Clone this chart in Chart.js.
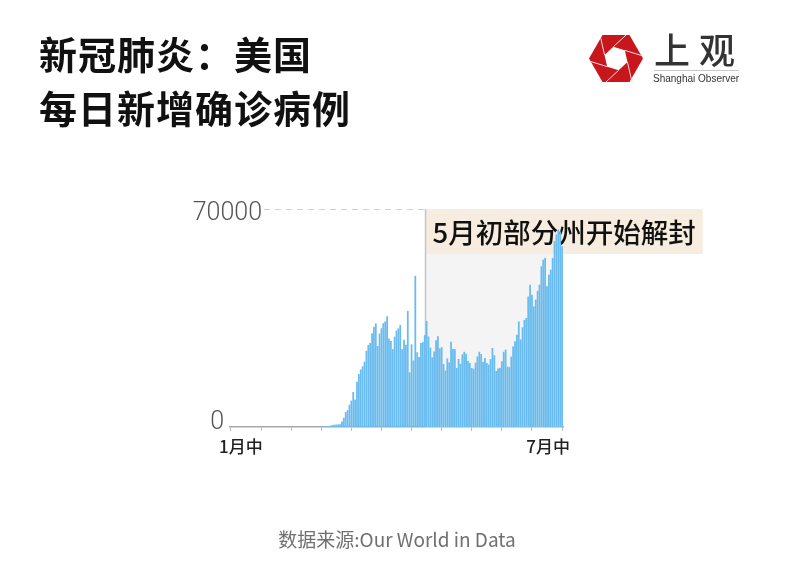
<!DOCTYPE html>
<html>
<head>
<meta charset="utf-8">
<script src="https://cdn.jsdelivr.net/npm/chart.js@4.4.1/dist/chart.umd.min.js"></script>
<style>
  html, body { margin: 0; padding: 0; background: #ffffff; }
  #wrap { width: 794px; height: 583px; position: relative; }
</style>
</head>
<body>
<div id="wrap"><canvas id="c" width="794" height="583"></canvas></div>
<script>
// ---------------- DATA ----------------
const titleLines = ['新冠肺炎：美国', '每日新增确诊病例'];
const sourceText = '数据来源:Our World in Data';
const startDate = '2020-01-19';
// daily new confirmed cases, United States (one value per day from startDate)
const casesJanFeb = [0,0,1,0,0,1,0,3,0,0,0,0,1,
  1,0,3,0,0,1,0,0,0,0,1,0,1,0,0,0,0,0,0,0,2,0,0,18,0,6,1,1,8];
const casesMar = [7,23,19,33,77,53,166,116,75,188,365,439,633,759,777,823,887,1766,2988,4835,
  5374,7123,8459,11236,8789,14500,17000,18500,19500,21000,24500];
const casesApr = [26366,27000,30081,32133,33264,26000,30000,31709,33331,33901,35527,28391,27620,25023,29000,
  31000,31667,32800,25000,28000,26400,37289,17588,26543,21352,48529,24000,22500,27000,27326];
const casesMay = [29515,34037,29078,25501,22335,24252,27862,29162,25241,25612,20258,18117,22048,20782,27368,
  25050,24994,18937,21841,20289,23285,24147,23520,21221,20568,18910,18721,20657,22658,24151,23417];
const casesJun = [20887,22153,20578,20075,21808,25368,23019,17989,18820,18996,21099,24149,24856,19400,19200,
  22600,25900,27500,29600,33900,28100,32000,34400,35000,41900,45700,42500,38700,40900,43700];
const casesJul = [45700,51600,53700,54300,45200,48900,50500,54300,59700,61800,63400,62800,58000];
const dailyCases = [].concat(casesJanFeb, casesMar, casesApr, casesMay, casesJun, casesJul);

const yTickValues = [0, 70000];
const yTickLabels = ['0', '70000'];
const xTickLabels = ['1月中', '7月中'];
const xTickEvery = 16;
const reopenDate = '2020-05-01';
const annotationText = '5月初部分州开始解封';

// category labels (dates)
const dateLabels = [];
(function () {
  const d0 = new Date(startDate + 'T00:00:00Z');
  for (let i = 0; i < dailyCases.length; i++) {
    const d = new Date(d0.getTime() + i * 86400000);
    dateLabels.push(d.toISOString().slice(0, 10));
  }
})();

// ---------------- DECOR PLUGIN ----------------
const CJK = '"Noto Sans CJK SC", "Noto Sans", sans-serif';

function drawLogo(ctx) {
  const cx = 616, cy = 58.5, R = 27;
  const pts = (r, rot) => {
    const a = [];
    for (let k = 0; k < 6; k++) {
      const t = rot + k * Math.PI / 3;
      a.push([cx + r * Math.cos(t), cy + r * Math.sin(t)]);
    }
    return a;
  };
  const outer = pts(R, 0);
  ctx.save();
  ctx.beginPath();
  outer.forEach((p, i) => i ? ctx.lineTo(p[0], p[1]) : ctx.moveTo(p[0], p[1]));
  ctx.closePath();
  ctx.fillStyle = '#c8161d';
  ctx.fill();
  ctx.clip();
  const inner = pts(12, 0.3);
  ctx.strokeStyle = 'rgba(255,255,255,0.85)';
  ctx.lineWidth = 1;
  for (let k = 0; k < 6; k++) {
    const p = inner[k], q = inner[(k + 5) % 6];
    const dx = p[0] - q[0], dy = p[1] - q[1];
    const len = Math.hypot(dx, dy);
    ctx.beginPath();
    ctx.moveTo(p[0], p[1]);
    ctx.lineTo(p[0] + dx / len * 40, p[1] + dy / len * 40);
    ctx.stroke();
  }
  ctx.beginPath();
  inner.forEach((p, i) => i ? ctx.lineTo(p[0], p[1]) : ctx.moveTo(p[0], p[1]));
  ctx.closePath();
  ctx.fillStyle = '#ffffff';
  ctx.fill();
  ctx.restore();

  ctx.save();
  ctx.fillStyle = '#333333';
  ctx.font = '500 36px ' + CJK;
  ctx.textBaseline = 'middle';
  ctx.textAlign = 'left';
  ctx.letterSpacing = '9px';
  ctx.fillText('上观', 654, 50);
  ctx.letterSpacing = '0px';
  ctx.strokeStyle = '#c8c8c8';
  ctx.lineWidth = 1;
  ctx.beginPath();
  ctx.moveTo(654, 70.5);
  ctx.lineTo(739, 70.5);
  ctx.stroke();
  ctx.font = '10px "Liberation Sans", Arial, sans-serif';
  ctx.fillStyle = '#333333';
  ctx.fillText('Shanghai Observer', 653, 79.5);
  ctx.restore();
}

const decorPlugin = {
  id: 'decor',
  beforeDatasetsDraw(chart) {
    const { ctx, chartArea, scales } = chart;
    const x = scales.x, y = scales.y;
    const lx = Math.round(x.getPixelForValue(dateLabels.indexOf(reopenDate))) + 0.5;
    const yTop = y.getPixelForValue(yTickValues[1]);
    const y0 = y.getPixelForValue(yTickValues[0]);
    const boxH = 45;
    ctx.save();
    // shaded period
    ctx.fillStyle = '#f4f4f4';
    ctx.fillRect(lx, yTop + boxH, chartArea.right - lx, y0 - yTop - boxH);
    // dashed top gridline
    ctx.strokeStyle = '#d2d2d2';
    ctx.lineWidth = 1;
    ctx.setLineDash([6, 5]);
    ctx.beginPath();
    ctx.moveTo(264, Math.round(yTop) + 0.5);
    ctx.lineTo(lx, Math.round(yTop) + 0.5);
    ctx.stroke();
    ctx.setLineDash([]);
    // annotation box
    ctx.font = '500 27.5px ' + CJK;
    const tw = ctx.measureText(annotationText).width;
    ctx.fillStyle = '#f6ecdf';
    ctx.fillRect(lx, yTop, tw + 14, boxH);
    ctx.fillStyle = '#111111';
    ctx.textBaseline = 'middle';
    ctx.textAlign = 'left';
    ctx.fillText(annotationText, lx + 7, yTop + boxH / 2 + 1);
    // vertical line
    ctx.strokeStyle = '#c4c4c4';
    ctx.lineWidth = 1.5;
    ctx.beginPath();
    ctx.moveTo(lx, yTop);
    ctx.lineTo(lx, y0);
    ctx.stroke();
    ctx.restore();
  },
  afterDraw(chart) {
    const { ctx, scales } = chart;
    const x = scales.x, y = scales.y;
    ctx.save();
    // y labels
    ctx.font = '300 25px Roboto, "Noto Sans", sans-serif';
    ctx.fillStyle = '#555555';
    ctx.textAlign = 'right';
    ctx.textBaseline = 'middle';
    ctx.fillText(yTickLabels[1], 262, y.getPixelForValue(yTickValues[1]) + 5);
    ctx.fillText(yTickLabels[0], 224, y.getPixelForValue(yTickValues[0]) - 4);
    // x labels
    ctx.font = '500 17px ' + CJK;
    ctx.fillStyle = '#222222';
    ctx.textAlign = 'center';
    ctx.fillText(xTickLabels[0], x.getPixelForValue(0) + 10, 447);
    ctx.fillText(xTickLabels[1], x.getPixelForValue(dailyCases.length - 1) - 14, 447);
    // title
    ctx.font = '700 38px ' + CJK;
    ctx.fillStyle = '#111111';
    ctx.textAlign = 'left';
    ctx.letterSpacing = '1px';
    ctx.fillText(titleLines[0], 39, 55);
    ctx.fillText(titleLines[1], 39, 109);
    ctx.letterSpacing = '0px';
    // source
    ctx.font = '400 19px ' + CJK;
    ctx.fillStyle = '#707070';
    ctx.textAlign = 'center';
    ctx.fillText(sourceText, 397, 540);
    ctx.restore();
    drawLogo(ctx);
  }
};

// ---------------- CHART ----------------
new Chart(document.getElementById('c'), {
  type: 'bar',
  data: {
    labels: dateLabels,
    datasets: [{
      data: dailyCases,
      backgroundColor: '#6abcee',
      borderWidth: 0,
      barPercentage: 0.95,
      categoryPercentage: 1.0
    }]
  },
  options: {
    responsive: false,
    animation: false,
    devicePixelRatio: 1,
    layout: { padding: { left: 230, right: 231, top: 209, bottom: 146 } },
    plugins: { legend: { display: false }, tooltip: { enabled: false } },
    scales: {
      x: {
        type: 'category',
        afterFit(scale) { scale.height = 10; },
        grid: {
          offset: false,
          drawOnChartArea: false,
          drawTicks: true,
          tickLength: 4,
          lineWidth: 1,
          color: (c) => (c.index % xTickEvery === 0 ? '#bdbdbd' : 'rgba(0,0,0,0)')
        },
        border: { display: true, color: '#a8a8a8', width: 1.5 },
        ticks: { display: false, autoSkip: false }
      },
      y: {
        display: false,
        min: yTickValues[0],
        max: yTickValues[1]
      }
    }
  },
  plugins: [decorPlugin]
});
</script>
</body>
</html>
